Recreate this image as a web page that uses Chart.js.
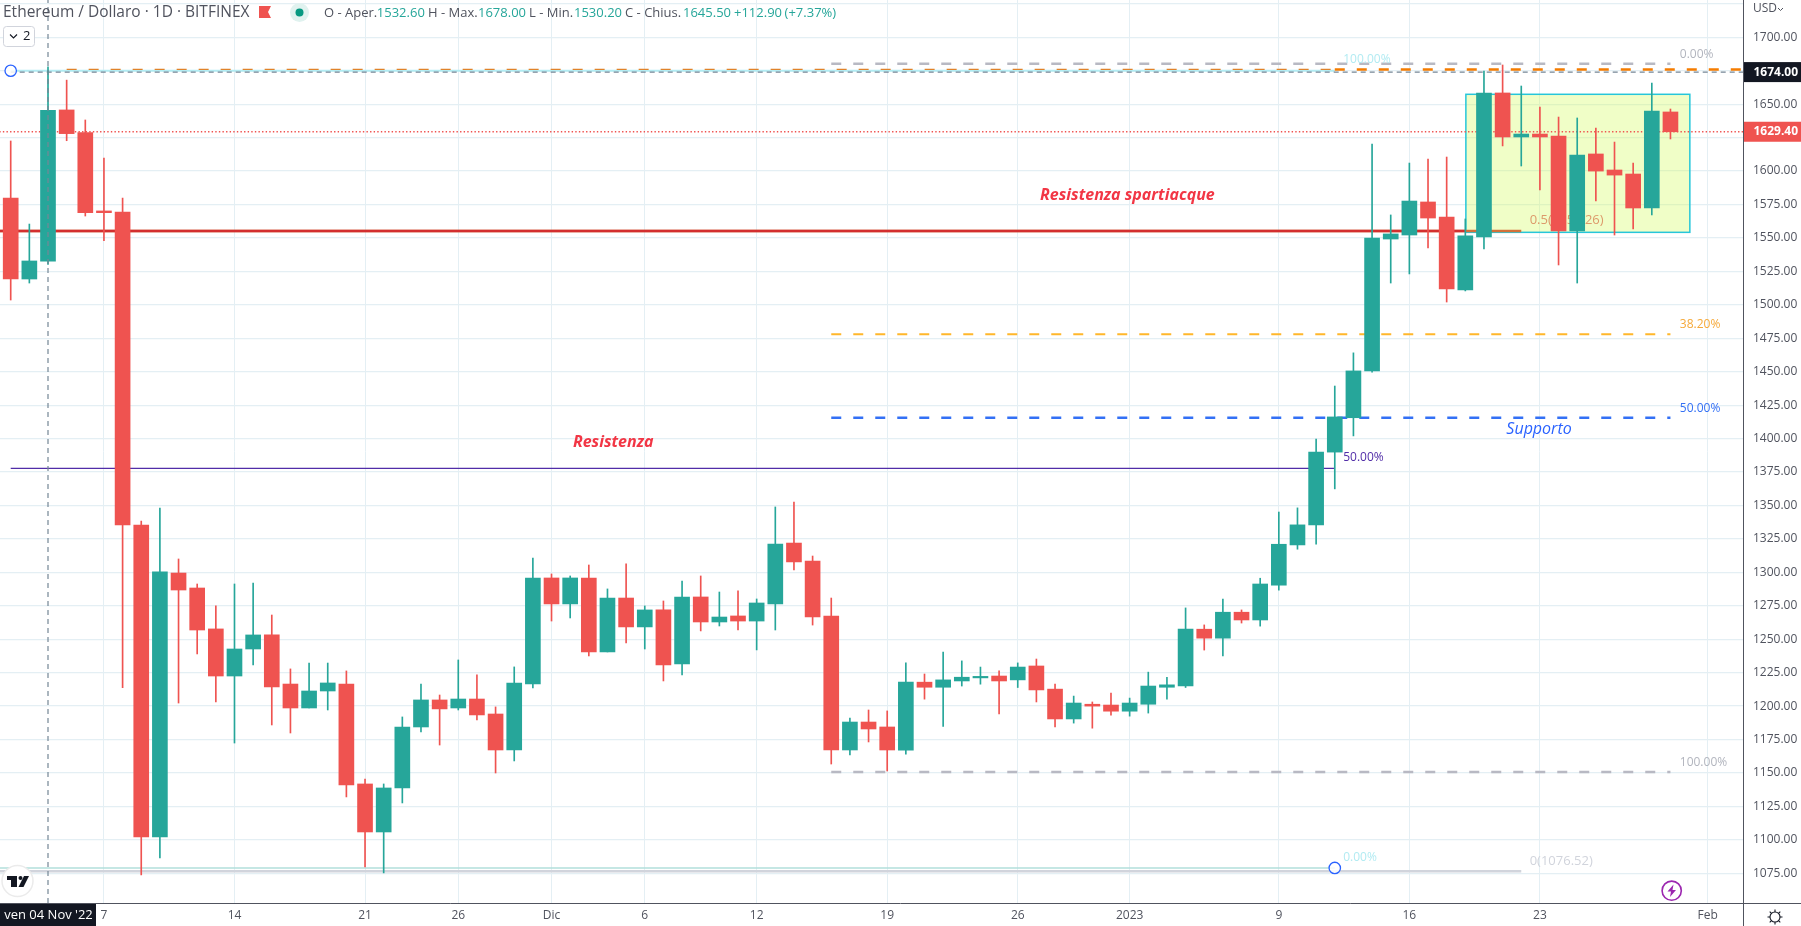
<!DOCTYPE html>
<html><head><meta charset="utf-8">
<style>html,body{margin:0;padding:0;background:#fff;overflow:hidden}canvas{display:block}</style>
<script src="https://cdn.jsdelivr.net/npm/chart.js@4"></script>
</head><body><canvas id="c" width="1801" height="926" style="width:1801px;height:926px"></canvas>
<script>
const dayNames = ["2 Nov","3 Nov","4 Nov","5 Nov","6 Nov","7 Nov","8 Nov","9 Nov","10 Nov","11 Nov","12 Nov","13 Nov","14 Nov","15 Nov","16 Nov","17 Nov","18 Nov","19 Nov","20 Nov","21 Nov","22 Nov","23 Nov","24 Nov","25 Nov","26 Nov","27 Nov","28 Nov","29 Nov","30 Nov","1 Dic","2 Dic","3 Dic","4 Dic","5 Dic","6 Dic","7 Dic","8 Dic","9 Dic","10 Dic","11 Dic","12 Dic","13 Dic","14 Dic","15 Dic","16 Dic","17 Dic","18 Dic","19 Dic","20 Dic","21 Dic","22 Dic","23 Dic","24 Dic","25 Dic","26 Dic","27 Dic","28 Dic","29 Dic","30 Dic","31 Dic","1 Gen","2 Gen","3 Gen","4 Gen","5 Gen","6 Gen","7 Gen","8 Gen","9 Gen","10 Gen","11 Gen","12 Gen","13 Gen","14 Gen","15 Gen","16 Gen","17 Gen","18 Gen","19 Gen","20 Gen","21 Gen","22 Gen","23 Gen","24 Gen","25 Gen","26 Gen","27 Gen","28 Gen","29 Gen","30 Gen"];
const opens = [1579.9,1519.3,1532.6,1645.7,1628.7,1570.2,1569.4,1335.4,1102.2,1299.5,1288.3,1257.7,1222.5,1242.7,1253.2,1216.5,1198.6,1211.3,1216.5,1141.8,1105.9,1138.8,1184.4,1204.6,1198.6,1205.3,1194.1,1167.2,1216.5,1295.8,1276.4,1295.8,1240.5,1280.8,1259.2,1271.9,1231.5,1281.6,1262.9,1267.4,1263.6,1276.4,1321.9,1308.5,1267.4,1167.2,1188.1,1184.4,1167,1217.9,1214.1,1218.8,1221.1,1222.5,1219.6,1230,1212.7,1190.4,1201.4,1200.8,1196.2,1201.4,1214.1,1215,1257.5,1250.8,1270.2,1264.4,1290.4,1320.5,1335.5,1389.9,1415.6,1450.6,1549.2,1552.2,1576.9,1565.7,1511.1,1550.7,1658.4,1625.5,1627.7,1626.2,1555.2,1612.8,1600.8,1597.8,1572.4,1644.2];
const highs = [1622.5,1560.4,1678,1668,1638.2,1609.8,1579.9,1338.4,1348.1,1310,1291.3,1274.9,1291.3,1292,1268.1,1227.8,1232.2,1232.2,1226.3,1145.5,1141.8,1191.9,1216.5,1208.3,1234.5,1223.3,1199.4,1229.3,1310.7,1298.8,1297.3,1305.5,1287.6,1306.3,1274.9,1278.6,1293.5,1297.3,1285.3,1286.1,1280.1,1348.9,1352.6,1312.2,1280.8,1191.1,1197.1,1196.4,1232.4,1224,1240.4,1233.8,1229.2,1226.3,1232.3,1235.2,1216.4,1207.5,1203.1,1209.8,1206,1225.4,1221.6,1273.4,1260.7,1280,1271.9,1295.6,1345.1,1348.2,1399.7,1439.3,1464.1,1620.2,1567.2,1606,1609,1610.5,1564.2,1674.8,1679.3,1663.6,1647.9,1640.4,1639.7,1632.2,1621.7,1606,1665.8,1646.4];
const lows = [1503.6,1516.3,1530.2,1622.7,1566.4,1548,1213.8,1073.8,1086.5,1202.3,1239,1203.1,1172.4,1230.8,1185.9,1179.9,1198.6,1197.1,1132.1,1079.7,1075.3,1127.6,1180.7,1170.9,1197.1,1189.6,1150,1159,1213.6,1263.6,1265.9,1237.5,1240.5,1247.2,1242.7,1218.8,1223.3,1256.2,1259.9,1256.9,1242,1256.9,1301.8,1260.6,1156.7,1163.5,1173.2,1151.5,1164.1,1205.2,1184.9,1215,1216.4,1194.2,1213.9,1203.1,1184.4,1187.3,1183.5,1193.3,1192.5,1194.8,1205.2,1213.9,1241.9,1237.5,1262.1,1259.8,1286.7,1317.3,1321,1362.4,1402,1449.7,1516.3,1523.1,1542.5,1502.1,1510.4,1541.8,1618.8,1603.8,1585.9,1529.8,1516.3,1577.6,1552.2,1556.7,1567.2,1624];
const closes = [1519.3,1532.8,1645.5,1628,1568.9,1568.9,1335.4,1102.2,1300.3,1286.8,1256.9,1222.5,1242.7,1253.2,1214.3,1198.6,1211.3,1217.3,1141,1105.9,1138.8,1184.4,1204.6,1197.9,1205.3,1193.4,1167.2,1217.3,1295.8,1276.4,1295.8,1240.5,1280.8,1259.2,1271.9,1230.8,1281.6,1262.9,1266.6,1263.6,1277.1,1321.2,1307.8,1266.6,1167.2,1188.1,1182.9,1167.2,1217.9,1214.1,1219.6,1221.6,1221.6,1218.8,1229.2,1212.1,1190.4,1202.3,1200,1196.2,1202.3,1215,1215.9,1257.5,1250.8,1270.2,1264.4,1291.3,1321,1335.5,1389.9,1416.2,1450.6,1550,1553,1577.6,1564.9,1511.9,1551.5,1658.4,1625.5,1627.7,1625.5,1555.2,1612,1600,1597,1572.4,1644.9,1629.4];
const xTickDays = [5,12,19,24,29,34,40,47,54,60,68,75,82,91];
const xTickLabels = ["7","14","21","26","Dic","6","12","19","26","2023","9","16","23","Feb"];
const yTicks = [1075,1100,1125,1150,1175,1200,1225,1250,1275,1300,1325,1350,1375,1400,1425,1450,1475,1500,1525,1550,1575,1600,1625,1650,1675,1700,1725];
const xMin = -0.574, xMax = 92.89, yMin = 1052.8, yMax = 1727.9;
const TEAL = '#26a69a', RED = '#ef5350';
const candleColors = closes.map((c,i)=> c >= opens[i] ? TEAL : RED);

function seg(x0,x1,p,color,width,dash,order){
  return {type:'line',data:[{x:x0,y:p},{x:x1,y:p}],borderColor:color,borderWidth:width,borderDash:dash||[],pointRadius:0,order:order||10,tension:0,fill:false};
}
const D = [10,12];
const lineDatasets = [
  seg(0,71,1675,'#b2ebf2',2,null,16),
  seg(-1,71,1079,'#b2dfdb',1.5,null,16),
  seg(-1,81,1076.52,'#d1d4dc',2.5,null,15),
  seg(-1,81,1555.26,'#d2713a',2.5,null,14),
  seg(-1,78,1555.26,'#d32f2f',2.5,null,13),
  seg(0,71,1377.7,'#512da8',1.3,null,12),
  seg(44,89,1680.3,'#b8b9c3',2.5,D,11),
  seg(44,89,1478,'#ffb72b',2,D,11),
  seg(44,89,1415.5,'#3370f5',2.5,D,11),
  seg(44,89,1150.8,'#b8b9c3',2.5,D,11),
  seg(3,71,1676,'#e0822a',1.3,D,11),
  seg(71,93,1676,'#f57c00',2.5,D,11),
  seg(-1,93,1629.4,'#ef5350',1.4,[1.4,2.2],9),
  seg(0,93,1674,'#758696',1.2,[5,4],0),
  {type:'line',data:[{x:2,y:yMin},{x:2,y:yMax}],borderColor:'#758696',borderWidth:1.2,borderDash:[5,4],pointRadius:0,order:0,tension:0}
];
const notesUnder = [
  {d:81.45,p:1563,t:'0.5(1555.26)',c:'#dd9a6b',f:'13px "Open Sans"'}
];
const notesOver = [
  {d:71.45,p:1683.3,t:'100.00%',c:'#b2ebf2',f:'12px "Open Sans"'},
  {d:89.5,p:1687.3,t:'0.00%',c:'#b2b5be',f:'12px "Open Sans"'},
  {d:89.5,p:1485.6,t:'38.20%',c:'#f5a93a',f:'12px "Open Sans"'},
  {d:89.5,p:1422.5,t:'50.00%',c:'#3370f5',f:'12px "Open Sans"'},
  {d:89.5,p:1157.5,t:'100.00%',c:'#b2b5be',f:'12px "Open Sans"'},
  {d:71.45,p:1385.8,t:'50.00%',c:'#512da8',f:'12px "Open Sans"'},
  {d:71.45,p:1087,t:'0.00%',c:'#b2ebf2',f:'12px "Open Sans"'},
  {d:81.45,p:1084,t:'0(1076.52)',c:'#d1d4dc',f:'13px "Open Sans"'},
  {d:55.2,p:1582,t:'Resistenza spartiacque',c:'#f23645',f:'italic bold 16px "Open Sans"'},
  {d:30.15,p:1397,t:'Resistenza',c:'#f23645',f:'italic bold 16px "Open Sans"'},
  {d:80.2,p:1407,t:'Supporto',c:'#2962ff',f:'italic 16px "Open Sans"'}
];

function txt(ctx,t,x,y,f,c,a){ctx.font=f;ctx.fillStyle=c;ctx.textAlign=a||'left';ctx.textBaseline='middle';ctx.fillText(t,x,y);}
const overlay = {
  id:'overlay',
  beforeDatasetsDraw(chart){
    const {ctx,scales:{x,y}} = chart;
    ctx.save();
    const l=x.getPixelForValue(78.03), r=x.getPixelForValue(90.04), t=y.getPixelForValue(1657.4), b=y.getPixelForValue(1554.2);
    ctx.fillStyle='rgba(210,252,90,0.34)';ctx.fillRect(l,t,r-l,b-t);
    ctx.strokeStyle='#26c6da';ctx.lineWidth=1.5;ctx.strokeRect(l,t,r-l,b-t);
    for(const n of notesUnder) txt(ctx,n.t,x.getPixelForValue(n.d),y.getPixelForValue(n.p),n.f,n.c);
    ctx.restore();
  },
  afterDraw(chart){
    const {ctx,scales:{x,y}} = chart;
    ctx.save();
    for(const n of notesOver) txt(ctx,n.t,x.getPixelForValue(n.d),y.getPixelForValue(n.p),n.f,n.c);
    for(const [d,p] of [[0,1675],[71,1079]]){
      ctx.beginPath();ctx.arc(x.getPixelForValue(d),y.getPixelForValue(p),5.7,0,7);
      ctx.fillStyle='rgba(255,255,255,0.85)';ctx.fill();ctx.strokeStyle='#2962ff';ctx.lineWidth=1.3;ctx.stroke();
    }
    ctx.strokeStyle='#50535e';ctx.lineWidth=1;
    ctx.beginPath();ctx.moveTo(0,903.5);ctx.lineTo(1801,903.5);ctx.moveTo(1743.5,0);ctx.lineTo(1743.5,926);ctx.stroke();
    const bx=(p,c,t)=>{const py=y.getPixelForValue(p);ctx.fillStyle=c;ctx.fillRect(1744,py-10,57,20);txt(ctx,t,1753.5,py,'bold 12px "Open Sans"','#fff');};
    bx(1629.4,RED,'1629.40');
    bx(1674,'#131722','1674.00');
    ctx.fillStyle='#131722';ctx.fillRect(0,904,96,22);
    txt(ctx,"ven 04 Nov '22",48.5,915.5,'13px "Open Sans"','#fff','center');
    txt(ctx,'Ethereum / Dollaro · 1D · BITFINEX',3,13,'15.5px "Open Sans"','#50535e');
    ctx.fillStyle=RED;ctx.beginPath();ctx.moveTo(259,6);ctx.lineTo(271,6);ctx.lineTo(268,12);ctx.lineTo(271,18);ctx.lineTo(259,18);ctx.closePath();ctx.fill();
    ctx.fillStyle='#e0f2ef';ctx.beginPath();ctx.arc(299.5,12.5,9.5,0,7);ctx.fill();
    ctx.fillStyle='#089981';ctx.beginPath();ctx.arc(299.5,12.5,4,0,7);ctx.fill();
    const g='#50535e',v='#26a69a',hf='13px "Open Sans"';
    [['O - Aper.',324,g],['1532.60',376.8,v],['H - Max.',428,g],['1678.00',478,v],['L - Min.',529,g],['1530.20',574,v],['C - Chius.',625,g],['1645.50',683,v],['+112.90',734,v],['(+7.37%)',784.6,v]].forEach(a=>txt(ctx,a[0],a[1],13,hf,a[2]));
    ctx.fillStyle='#fff';ctx.strokeStyle='#d1d4dc';ctx.lineWidth=1;ctx.beginPath();ctx.roundRect(3.5,26.5,31,20,3);ctx.fill();ctx.stroke();
    ctx.strokeStyle='#131722';ctx.lineWidth=1.1;ctx.beginPath();ctx.moveTo(10,34.5);ctx.lineTo(13.5,38);ctx.lineTo(17,34.5);ctx.stroke();
    txt(ctx,'2',23,36.5,'13px "Open Sans"','#131722');
    txt(ctx,'USD',1753,9,'12px "Open Sans"','#50535e');
    ctx.strokeStyle='#50535e';ctx.lineWidth=1;ctx.beginPath();ctx.moveTo(1778,8);ctx.lineTo(1780.5,10.5);ctx.lineTo(1783,8);ctx.stroke();
    ctx.fillStyle='#fff';ctx.strokeStyle='#ebebeb';ctx.lineWidth=1.5;ctx.beginPath();ctx.arc(17.5,881,15.5,0,7);ctx.fill();ctx.stroke();
    ctx.fillStyle='#131722';ctx.fillRect(7,876,10,4);ctx.fillRect(11,876,6,11);
    ctx.beginPath();ctx.arc(20.5,878,2,0,7);ctx.fill();
    ctx.beginPath();ctx.moveTo(24,876);ctx.lineTo(29,876);ctx.lineTo(23.5,887);ctx.lineTo(18.5,887);ctx.closePath();ctx.fill();
    ctx.strokeStyle='#9c27b0';ctx.lineWidth=1.6;ctx.beginPath();ctx.arc(1671.7,890.7,9.6,0,7);ctx.stroke();
    ctx.fillStyle='#9c27b0';ctx.beginPath();ctx.moveTo(1673.5,884.5);ctx.lineTo(1667.5,891.5);ctx.lineTo(1671,891.5);ctx.lineTo(1670,897);ctx.lineTo(1676,890);ctx.lineTo(1672.5,890);ctx.closePath();ctx.fill();
    ctx.strokeStyle='#131722';ctx.lineWidth=1.1;ctx.beginPath();ctx.arc(1775,917,5,0,7);ctx.stroke();
    ctx.beginPath();for(let i=0;i<8;i++){const a=i*Math.PI/4;ctx.moveTo(1775+5*Math.cos(a),917+5*Math.sin(a));ctx.lineTo(1775+7.5*Math.cos(a),917+7.5*Math.sin(a));}ctx.stroke();
    ctx.restore();
  }
};

function noPad(a){a.paddingTop=0;a.paddingBottom=0;a.paddingLeft=0;a.paddingRight=0;}
new Chart(document.getElementById('c'),{
  type:'bar',
  plugins:[overlay],
  data:{datasets:[
    {label:'Corpo',data:dayNames.map((n,i)=>({x:i,y:[opens[i],closes[i]]})),backgroundColor:candleColors,barThickness:15,borderWidth:0,borderSkipped:false,grouped:false,order:1,minBarLength:1.5},
    {label:'Ombra',data:dayNames.map((n,i)=>({x:i,y:[lows[i],highs[i]]})),backgroundColor:candleColors,barThickness:1,borderWidth:0,borderSkipped:false,grouped:false,order:2},
    ...lineDatasets
  ]},
  options:{
    responsive:false,animation:false,devicePixelRatio:1,
    layout:{padding:0},
    plugins:{legend:{display:false},tooltip:{enabled:false}},
    scales:{
      x:{type:'linear',position:'bottom',min:xMin,max:xMax,offset:false,
        grid:{offset:false,color:'#e4eff4',lineWidth:1,drawTicks:false},
        border:{display:false},
        afterBuildTicks(a){a.ticks=xTickDays.map(v=>({value:v}));},
        afterFit(a){a.height=23;noPad(a);},
        ticks:{autoSkip:false,maxRotation:0,padding:5,color:'#50535e',font:{family:'"Open Sans"',size:12},
          callback(v){const i=xTickDays.indexOf(v);return i<0?'':xTickLabels[i];}}
      },
      y:{type:'linear',position:'right',min:yMin,max:yMax,
        grid:{color:'#e4eff4',lineWidth:1.3,drawTicks:false},
        border:{display:false},
        afterBuildTicks(a){a.ticks=yTicks.map(v=>({value:v}));},
        afterFit(a){a.width=58;noPad(a);},
        ticks:{autoSkip:false,padding:10,color:'#50535e',font:{family:'"Open Sans"',size:12},
          callback(v){return v>1700?'':v.toFixed(2);}}
      }
    }
  }
});
</script></body></html>
